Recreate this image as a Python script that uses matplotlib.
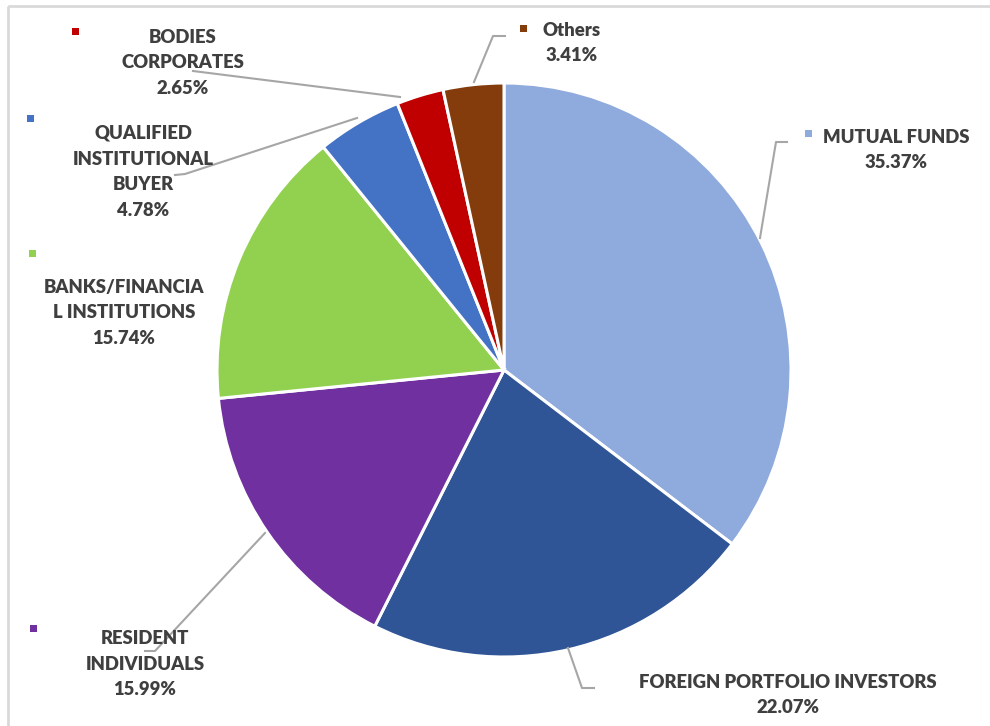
import matplotlib.pyplot as plt
from matplotlib.patches import Rectangle

categories = ['MUTUAL FUNDS', 'FOREIGN PORTFOLIO INVESTORS', 'RESIDENT\nINDIVIDUALS',
              'BANKS/FINANCIA\nL INSTITUTIONS', 'QUALIFIED\nINSTITUTIONAL\nBUYER',
              'BODIES\nCORPORATES', 'Others']
shares = [35.37, 22.07, 15.99, 15.74, 4.78, 2.65, 3.41]
colors = ['#8FAADC', '#2F5597', '#7030A0', '#92D050', '#4472C4', '#C00000', '#843C0C']

# label layout in pixel coords (text centre, marker, leader line)
text_pos = [(896, 150), (788, 695), (145, 664), (124, 313), (143, 172), (183, 63), (572, 43)]
marker_pos = [(808, 133), None, (33, 628), (32, 253), (30, 118), (75, 31), (523, 28)]
leaders = [
    [(760, 238), (776, 142), (787, 142)],
    [(568, 648), (582, 688), (594, 688)],
    [(265, 533), (155, 651), (145, 651)],
    None,
    [(357, 118), (185, 174), (175, 175)],
    [(400, 97), (193, 71)],
    [(474, 82), (493, 36), (505, 36)],
]

fig = plt.figure(figsize=(9.9, 7.26), dpi=100)
ax = fig.add_axes([0, 0, 1, 1])

# y axis is inverted below, so counterclock=True draws clockwise on screen
ax.pie(shares, colors=colors, startangle=-90, counterclock=True,
       center=(504, 370), radius=287, frame=True,
       wedgeprops=dict(edgecolor='white', linewidth=2.2))
ax.set_xlim(0, 990)
ax.set_ylim(726, 0)
ax.set_aspect('equal')
ax.axis('off')

for lbl, val, tp, mp, ld, col in zip(categories, shares, text_pos, marker_pos, leaders, colors):
    if ld is not None:
        xs, ys = zip(*ld)
        ax.plot(xs, ys, color='#A6A6A6', lw=1.5, zorder=1)
    ax.text(tp[0], tp[1], f'{lbl}\n{val:.2f}%', ha='center', va='center',
            fontsize=13.3, fontweight='heavy', family='Lato', color='#3F3F3F',
            linespacing=1.62)
    if mp is not None:
        ax.add_patch(Rectangle((mp[0] - 3.5, mp[1] - 3.5), 7, 7, color=col, lw=0))

# outer frame
ax.add_patch(Rectangle((8, 6), 990, 730, fill=False, edgecolor='#D9D9D9', lw=2))

fig.savefig('out.png', dpi=100)
